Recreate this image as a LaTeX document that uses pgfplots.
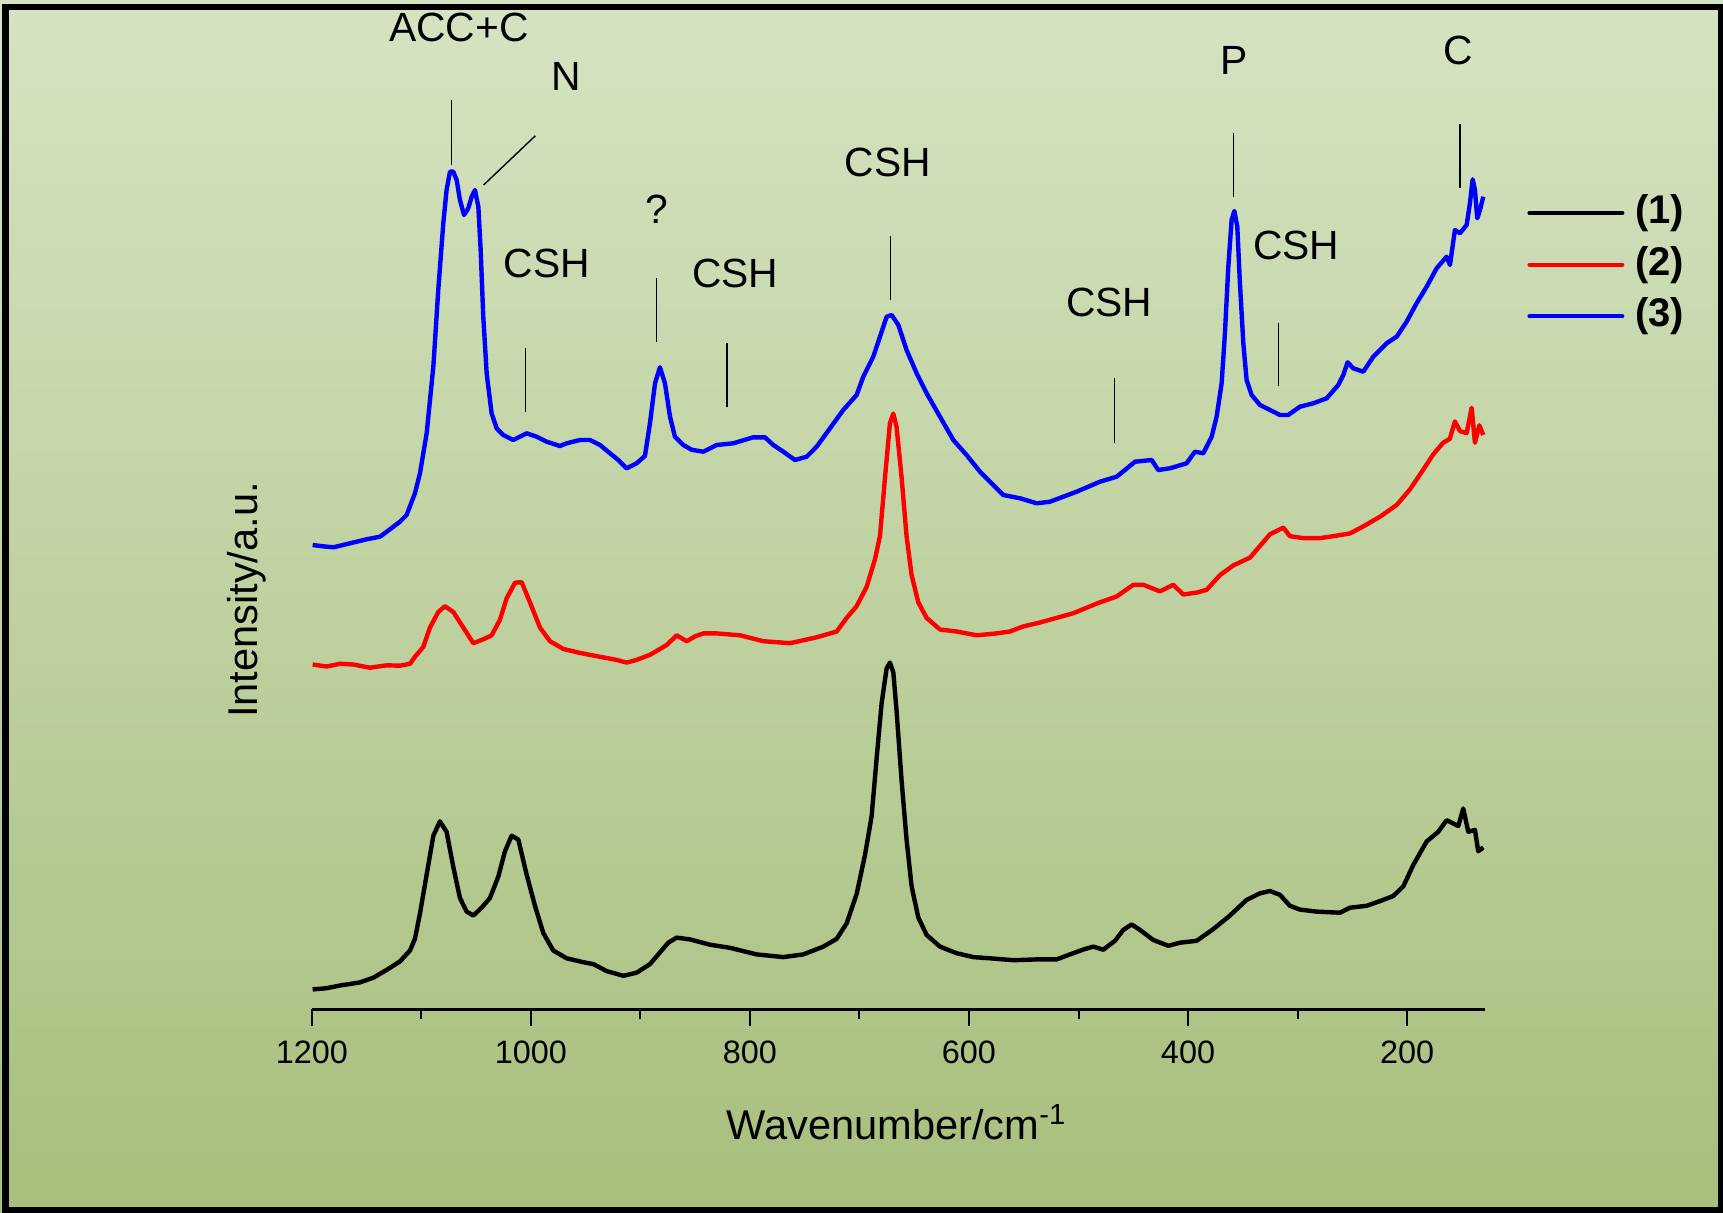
\documentclass[border=0pt]{standalone}
\usepackage{fontspec}
\setmainfont{Liberation Sans}
\usepackage{pgfplots}
\pgfplotsset{compat=1.18}
\definecolor{bgtop}{RGB}{214,227,194}
\definecolor{bgbot}{RGB}{167,191,125}

\begin{document}
\begin{tikzpicture}
\useasboundingbox (0,0) rectangle (430.75pt,303pt);
\shade[top color=bgtop, bottom color=bgbot] (0,0) rectangle (430.75pt,303pt);
\draw[line width=1.5pt] (1.375pt,0.625pt) rectangle (430.125pt,301.125pt);
\begin{axis}[
  at={(77.975pt,50.675pt)}, anchor=south west,
  scale only axis, width=293.175pt, height=250pt,
  xmin=129.2, xmax=1200, ymin=0, ymax=1000,
  x dir=reverse,
  axis x line=bottom, axis y line=left,
  x axis line style={-, line width=0.7pt},
  y axis line style={draw=none},
  xtick={200,400,...,1200},
  minor xtick={300,500,...,1100},
  tick align=outside,
  major tick length=4.25pt, minor tick length=2.5pt,
  every tick/.style={black, line width=0.5pt},
  ytick=\empty,
  xticklabel style={font=\fontsize{8.1}{9.7}\selectfont},
  /pgf/number format/assume math mode=true,
  /pgf/number format/1000 sep={},
  xlabel={Wavenumber/cm\textsuperscript{-1}},
  ylabel={Intensity/a.u.},
  xlabel style={at={(axis description cs:0.4988,-0.13)}, anchor=base, font=\fontsize{10.4}{12}\selectfont, inner sep=0pt},
  ylabel style={at={(axis description cs:-0.0553,0.4093)}, anchor=center, font=\fontsize{10.4}{12}\selectfont, inner sep=0pt},
  clip=false,
  legend style={draw=none, fill=none, at={(axis description cs:1.0365,0.8157)}, anchor=north west,
    inner sep=0pt, outer sep=0pt, row sep=3.2pt,
    font=\fontsize{10}{12}\selectfont\bfseries,
    nodes={inner sep=0pt, text height=7.5pt, text depth=2.2pt, anchor=center}},
  legend image code/.code={\draw[#1, line width=1pt, line cap=round] (0.5pt,0pt) -- (23.75pt,0pt); \path[draw=none] (0pt,0pt) -- (27pt,0pt);},
]
\addplot[black, line width=1.1pt, line join=round] table {
1199.3 19.9
1186.5 21.1
1174.4 23.8
1156.1 26.9
1143.9 31.6
1131.7 39.4
1119.6 47.9
1110.4 58.8
1105.9 70.5
1101.3 95.8
1095.2 134.7
1089.1 173.6
1083.1 187.9
1077.0 177.5
1070.9 142.5
1064.8 111.3
1058.7 97.7
1052.6 93.8
1045 101.6
1037.4 111.3
1029.8 132.7
1023.7 158.0
1017.6 173.6
1011.5 169.7
1003.9 134.7
996.3 103.5
988.7 76.3
979.6 58.8
967.4 51.0
952.2 47.1
943.0 45.2
930.8 38.2
915.6 33.5
903.5 36.6
891.3 45.2
882.2 56.9
874.6 66.6
867 71.7
854.8 69.9
836.5 64.6
818.3 61.5
793.9 54.9
769.5 52.2
751.3 54.9
733.0 62.7
720.8 70.5
711.7 86
702.6 115.2
695 154.1
688.9 193.0
684.3 251.4
679.8 305.8
675.2 340.9
672.2 346.7
669.1 337
666.1 298.1
661.5 228.1
657 169.7
652.4 123
646.3 91.9
638.7 74.4
626.5 62.7
611.3 56.1
596.0 52.2
580.8 51.0
559.5 49.1
538.2 49.9
520 49.9
507.8 54.9
495 60
486.5 62.7
477.4 59.6
466.7 68.5
459.1 79.4
451.5 84.9
443.9 79.4
431.7 69.3
418.0 63.5
407.4 66.6
392.1 68.5
376.9 80.2
361.7 93.8
346.5 109.4
334.3 116.0
325.2 118.3
316.1 114.5
306.9 103.5
297.8 99.7
282.6 97.7
261.3 96.6
252.1 101.6
236.9 103.5
224.7 108.2
212.6 113.3
203.4 123
194.3 144.4
182.1 167.8
171.5 177.5
163.9 189.1
153.2 183.3
148.7 200.8
144.1 177.5
138.0 179.4
135.0 158.0
130.4 161.9
};
\addlegendentry{(1)}
\addplot[red, line width=1.1pt, line join=round] table {
1199.3 344.8
1186.5 342.8
1174.4 345.5
1162.2 344.8
1147 341.6
1131.7 344
1119.6 343.6
1110.4 345.5
1105.9 352.5
1098.3 362.3
1092.2 381.7
1084.6 397.3
1078.5 403.1
1070.9 397.3
1061.7 381.7
1052.6 366.1
1043.5 370.0
1035.9 373.9
1028.3 389.5
1022.2 410.9
1014.6 426.5
1008.5 427.2
1000.9 407
991.7 381.7
982.6 368.1
970.4 360.3
955.2 356.4
936.9 352.5
921.7 349.4
912.6 346.7
903.5 349.4
891.3 354.5
876.1 364.2
866.9 374
857.8 368.1
850 373
842.6 375.9
830.4 375.9
809.1 374
787.8 368.1
763.4 366.1
739.1 372
720.8 377.8
711.7 391.4
702.6 403.1
693.4 422.6
685.9 449.8
681.3 473.1
676.7 531.5
672.2 586
669.1 595.7
666.1 582.1
661.5 531.5
657 473.1
652.4 434.2
646.3 407
638.7 391.4
626.5 379.8
611.3 377.8
593.0 374
574.8 375.9
562.6 377.8
550.4 382.9
535.2 386.8
520 391.4
504.7 396.1
495 400.5
480.4 407
465.2 412.8
450 424.5
440.8 424.5
425.6 417.9
413.5 424.5
404.3 414.8
392.1 416.7
383 419.5
370.8 434.2
358.7 443.9
343.4 451.7
334.3 463.4
325.2 475
313 481.7
306.9 473.1
294.8 471.2
279.5 471.2
267.4 473.1
252.1 475.9
240 482.9
224.7 492.6
209.5 504.3
197.4 519.8
185.4 539.3
176.2 554.8
167.1 566.5
161 570.4
156.3 587.9
151.7 578.2
145.6 576.2
141.0 601.5
138 566.5
134.0 584
130.4 574.3
};
\addlegendentry{(2)}
\addplot[blue, line width=1.1pt, line join=round] table {
1199.3 464.3
1190 463
1180.4 462.0
1165.2 466
1150 470
1137.8 472.6
1128.7 480
1119.6 487.6
1113.5 494.3
1105.9 516
1101.3 536
1095.2 576
1089.1 642.6
1084.6 719.3
1080 786
1077 819.3
1073.9 837.6
1070.9 837.6
1067.8 829.3
1064.8 809.3
1061.1 794.3
1057.2 801
1054.1 812.6
1051.1 819.3
1048.0 802.6
1045.9 759.3
1043.5 692.6
1040.4 636
1035.9 596
1031.3 581
1025.2 574.3
1016.1 569.3
1003.9 576
994.8 572.6
985.6 567.6
973.5 563.3
967.4 566
955.2 569.3
946.1 569.3
936.9 564.3
927.8 556
920.2 549.3
912.6 541
903.5 546
895.9 553.3
891.3 586
886.7 626
882.2 642
877.6 626
873 592.6
868.5 572.6
860.9 564.3
853.2 559.5
842.6 557.6
830.4 564.3
815.2 566
797 572
786.3 572
778.7 564.3
769.5 557.6
758.9 549.3
748.2 552.6
739.1 562.6
726.9 581
714.8 599.3
702.6 614.3
696.5 632.6
687.4 652.6
681.3 672.6
675.2 692.6
670.6 694.3
664.5 684.3
657 659.3
647.8 636
638.7 616
626.5 592.6
614.3 569.3
602.2 554.3
590 537.6
577.8 524.3
568.7 514.3
553.4 511
538.2 506
526 507.6
513.9 512.6
501.7 517.6
491 522.6
480.4 527.6
465.2 532.6
457.6 539.3
448.4 547.6
433.2 549.3
427.2 539.3
416.5 541
401.3 546
393.7 557.6
386.1 556
378.4 572.6
373.9 592.6
369.3 626
366.3 676
363.2 742.6
360.2 789.3
357.7 798.3
355 782.6
352.6 726
349.5 666
346.5 629.3
341.9 614.3
334.3 604.3
325.2 599.3
316.1 594.3
308.5 594.3
297.8 602.6
285.6 606
273.4 611
262.8 624.3
258.2 634.3
254.3 647
249.1 641
240 637.6
230.8 652.6
218.7 666
209.5 672.6
200.4 687.6
191.3 706
182.1 722.6
173 741
163.9 752.6
160.8 744.3
156.3 779.3
151.7 776
145.6 784.3
142.6 806
140.1 830
138.0 819.3
135.9 791
133.4 799.3
130.4 812.6
};
\addlegendentry{(3)}
% annotations
\begin{scope}[every node/.style={font=\fontsize{10.2}{12}\selectfont, inner sep=0pt}]
\node at (axis cs:1065.7,981.8) {ACC+C};
\node at (axis cs:967.4,933.3) {N};
\node at (axis cs:985.3,746.3) {CSH};
\node at (axis cs:885.1,800.3) {?};
\node at (axis cs:813.3,736.3) {CSH};
\node at (axis cs:674.0,847.3) {CSH};
\node at (axis cs:471.9,707.3) {CSH};
\node at (axis cs:358.0,949.3) {P};
\node at (axis cs:301.2,763.8) {CSH};
\node at (axis cs:152.9,959.3) {C};
\end{scope}
\begin{scope}[line width=0.35pt]
\draw (axis cs:1072.6,909.3) -- (axis cs:1072.6,844.3);
\draw (axis cs:1043.2,824.3) -- (axis cs:995.9,873.6);
\draw (axis cs:1005.0,661.3) -- (axis cs:1005.0,597.3);
\draw (axis cs:885.1,731.3) -- (axis cs:885.1,667.3);
\draw (axis cs:821.1,666.3) -- (axis cs:821.1,602.3);
\draw (axis cs:671.9,773.3) -- (axis cs:671.9,709.3);
\draw (axis cs:467.0,631.3) -- (axis cs:467.0,566.3);
\draw (axis cs:358.3,876.3) -- (axis cs:358.3,812.3);
\draw (axis cs:317.6,686.3) -- (axis cs:317.6,623.3);
\draw (axis cs:151.7,885.3) -- (axis cs:151.7,821.3);
\end{scope}
\end{axis}
\end{tikzpicture}
\end{document}
